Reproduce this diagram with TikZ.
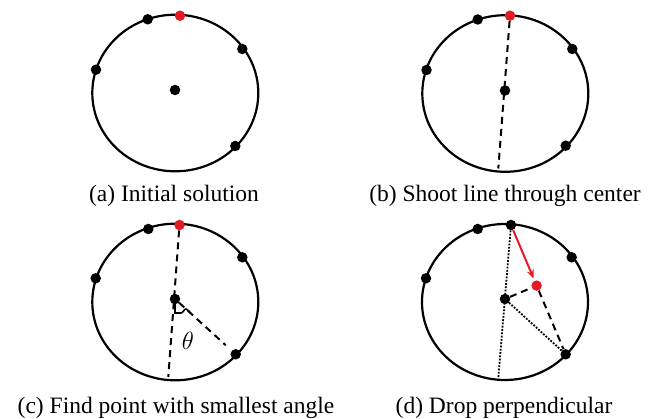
\documentclass[tikz,border=0pt]{standalone}
\usepackage{fontspec}
\setmainfont{Liberation Serif}
\usepackage{tikz}
\usetikzlibrary{arrows.meta, calc, backgrounds}
\definecolor{dotred}{RGB}{226, 28, 36}

\begin{document}
\begin{tikzpicture}[
    x=1pt, y=-1pt,
    ring/.style={draw=black, line width=2.2pt},
    dot/.style={circle, fill=black, inner sep=0pt, minimum size=10.5pt},
    reddot/.style={dot, fill=dotred},
    dashline/.style={line width=2pt, dash pattern=on 7pt off 5pt},
    dotline/.style={line width=1.8pt, dash pattern=on 1.8pt off 1.5pt},
    caption/.style={anchor=base, inner sep=0pt, font=\fontsize{23.5}{28}\selectfont},
    pusharrow/.style={-{Stealth[length=9pt, width=7pt]}, line width=2pt, color=dotred, shorten >=2pt}
]
\useasboundingbox (0,0) rectangle (654,419);

% Panel (a)
\begin{scope}[shift={(175,90)}]
  \draw[ring] (0.3,3) ellipse [x radius=83pt, y radius=78.3pt];
  \node[dot] (a-c) at (0,0) {};
  \node[dot] (a-tl) at (-27.3,-70.7) {};
  \node[reddot] (a-top) at (5,-74.3) {};
  \node[dot] (a-r) at (67.3,-41) {};
  \node[dot] (a-l) at (-79,-20.3) {};
  \node[dot] (a-br) at (60.3,56) {};
\end{scope}

% Panel (b)
\begin{scope}[shift={(505,90.5)}]
  \draw[ring] (0.3,3) ellipse [x radius=83pt, y radius=78.3pt];
  \node[dot] (b-c) at (0,0) {};
  \node[dot] (b-tl) at (-27.3,-71) {};
  \node[reddot] (b-top) at (5,-74.8) {};
  \node[dot] (b-r) at (67.3,-41.5) {};
  \node[dot] (b-l) at (-78.5,-20.5) {};
  \node[dot] (b-br) at (60.7,55.2) {};
  \coordinate (b-bot) at (-6.7,78);
  \begin{scope}[on background layer]
    \draw[dashline] (b-top) -- (b-bot);
  \end{scope}
\end{scope}

% Panel (c)
\begin{scope}[shift={(175,299)}]
  \draw[ring] (0.3,3) ellipse [x radius=83pt, y radius=78.3pt];
  \node[dot] (c-c) at (0,0) {};
  \node[dot] (c-tl) at (-26.7,-70) {};
  \node[reddot] (c-top) at (4.5,-74) {};
  \node[dot] (c-r) at (67.3,-41.7) {};
  \node[dot] (c-l) at (-79.3,-20.7) {};
  \node[dot] (c-br) at (60.7,55.3) {};
  \coordinate (c-bot) at (-6.7,78);
  \node[font=\fontsize{23.5}{28}\selectfont] (c-theta) at (13,42) {$\theta$};
  \begin{scope}[on background layer]
    \draw[dashline] (c-top) -- (c-bot);
    \draw[dashline, shorten >=8pt] (c-c) -- (c-br);
  \end{scope}
  \draw[line width=1.6pt] (0,5) -- (0,14) -- (6,14)
    .. controls (8,14) and (9,10) .. (11,10) .. controls (13,10) and (14,13) .. (15.5,14);
\end{scope}

% Panel (d)
\begin{scope}[shift={(505,299)}]
  \draw[ring] (0,3) ellipse [x radius=83pt, y radius=78pt];
  \node[dot] (d-c) at (0,0) {};
  \node[dot] (d-tl) at (-27.3,-70) {};
  \node[dot] (d-top) at (6,-74) {};
  \node[dot] (d-r) at (66.7,-41.7) {};
  \node[dot] (d-l) at (-79,-20.7) {};
  \node[dot] (d-br) at (60.7,55.3) {};
  \coordinate (d-bot) at (-6.7,79);
  \node[reddot] (d-foot) at ($(d-top)!(d-c)!(d-br)$) {};
  \begin{scope}[on background layer]
    \draw[dotline] (d-top) -- (d-bot);
    \draw[dotline] (d-c) -- (d-br);
    \draw[dashline] (d-c) -- (d-foot);
    \draw[dashline] (d-foot) -- (d-br);
  \end{scope}
  \draw[pusharrow] (d-top) -- (d-foot);
\end{scope}

% Captions
\node[caption] (cap-a) at (174,201.7) {(a) Initial solution};
\node[caption] (cap-b) at (505,201.7) {(b) Shoot line through center};
\node[caption] (cap-c) at (176,413.3) {(c) Find point with smallest angle};
\node[caption] (cap-d) at (504,413.3) {(d) Drop perpendicular};

\end{tikzpicture}
\end{document}
